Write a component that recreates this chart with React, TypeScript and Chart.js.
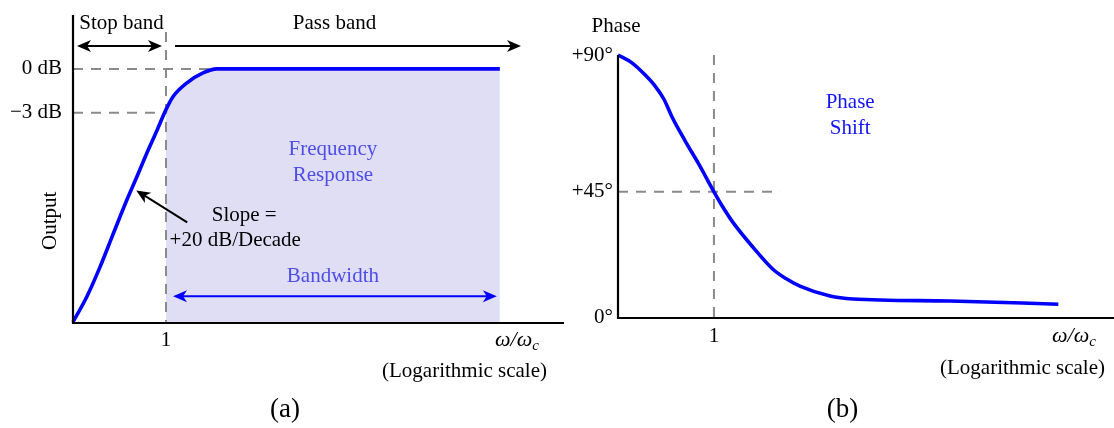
import React, { useEffect, useRef } from 'react';
import { Chart, registerables } from 'chart.js';

Chart.register(...registerables);

const W = 1114;
const H = 428;

// ---- Panel (a): magnitude response. x = log10(ω/ωc), y = normalised output ----
const ampX = [-1.0, -0.849, -0.71, -0.57, -0.419, -0.312, -0.204, -0.097, 0, 0.075, 0.226, 0.398, 0.548, 3.59];
const ampY = [0, 0.102, 0.217, 0.346, 0.484, 0.575, 0.669, 0.757, 0.839, 0.89, 0.945, 0.984, 1.0, 1.0];
const ampTickValues = [1.0, 0.827];
const ampTickLabels = ['0 dB', '\u22123 dB'];
const ampXRange = [-1, 4.28];
const ampYRange = [0, 1.213];

// ---- Panel (b): phase response. x = log10(ω/ωc), y = degrees ----
const phaseX = [-1.0, -0.854, -0.719, -0.615, -0.521, -0.438, -0.302, -0.156, 0, 0.083, 0.198, 0.406, 0.615, 0.75, 0.896, 1.21, 1.45, 2.46, 3.59];
const phaseY = [90, 87.3, 83.2, 79.4, 74.8, 68.8, 60.6, 52.4, 43, 38.3, 32.5, 24.0, 16.4, 13.2, 10.6, 7.2, 6.2, 5.5, 4.4];
const phaseTickValues = [90, 43, 0];
const phaseTickLabels = ['+90\u00B0', '+45\u00B0', '0\u00B0'];
const phaseXRange = [-1, 4.17];
const phaseYRange = [0, 90];

const cornerValue = 0;
const cornerLabel = '1';

const SERIF = '"Liberation Serif", "Times New Roman", serif';
const f = (size: number, style = '') => `${style} ${size}px ${SERIF}`.trim();
const GRAY = '#8a8a8a';
const BLUE = '#0000ff';

function arrowHead(ctx: CanvasRenderingContext2D, x: number, y: number, ang: number, color: string, len = 14, half = 6) {
  ctx.save();
  ctx.translate(x, y);
  ctx.rotate(ang);
  ctx.beginPath();
  ctx.moveTo(0, 0);
  ctx.lineTo(-len, -half);
  ctx.lineTo(-len * 0.72, 0);
  ctx.lineTo(-len, half);
  ctx.closePath();
  ctx.fillStyle = color;
  ctx.fill();
  ctx.restore();
}

function arrow(ctx: CanvasRenderingContext2D, x1: number, y1: number, x2: number, y2: number, color: string, both: boolean, width = 2) {
  const a = Math.atan2(y2 - y1, x2 - x1);
  const c = Math.cos(a), s = Math.sin(a);
  ctx.save();
  ctx.strokeStyle = color;
  ctx.lineWidth = width;
  ctx.setLineDash([]);
  ctx.beginPath();
  ctx.moveTo(x1 + (both ? c * 8 : 0), y1 + (both ? s * 8 : 0));
  ctx.lineTo(x2 - c * 8, y2 - s * 8);
  ctx.stroke();
  arrowHead(ctx, x2, y2, a, color);
  if (both) arrowHead(ctx, x1, y1, a + Math.PI, color);
  ctx.restore();
}

function text(ctx: CanvasRenderingContext2D, s: string, x: number, y: number, font: string, color = '#000', align: CanvasTextAlign = 'center', baseline: CanvasTextBaseline = 'middle') {
  ctx.font = font;
  ctx.fillStyle = color;
  ctx.textAlign = align;
  ctx.textBaseline = baseline;
  ctx.fillText(s, x, y);
}

function omegaLabel(ctx: CanvasRenderingContext2D, cx: number, baseY: number) {
  ctx.save();
  ctx.font = f(22, 'italic');
  const main = '\u03C9/\u03C9';
  const w1 = ctx.measureText(main).width;
  ctx.font = f(15, 'italic');
  const w2 = ctx.measureText('c').width;
  const x0 = cx - (w1 + w2) / 2;
  text(ctx, main, x0, baseY, f(22, 'italic'), '#000', 'left', 'alphabetic');
  text(ctx, 'c', x0 + w1, baseY + 4, f(15, 'italic'), '#000', 'left', 'alphabetic');
  ctx.restore();
}

function dashed(ctx: CanvasRenderingContext2D, x1: number, y1: number, x2: number, y2: number) {
  ctx.save();
  ctx.strokeStyle = GRAY;
  ctx.lineWidth = 2;
  ctx.setLineDash([10, 8]);
  ctx.beginPath();
  ctx.moveTo(x1, y1);
  ctx.lineTo(x2, y2);
  ctx.stroke();
  ctx.restore();
}

const ampPlugin = {
  id: 'ampDeco',
  afterDatasetDraw(chart: any, args: any) {
    if (args.index !== 1) return;
    const { ctx, chartArea: ca } = chart;
    const xs = chart.scales.x, ys = chart.scales.y;
    const xc = xs.getPixelForValue(cornerValue);
    const y0 = ys.getPixelForValue(0);
    const flatIdx = ampY.findIndex((v) => v >= 1);
    dashed(ctx, xc, ca.top + 17, xc, y0);
    dashed(ctx, ca.left, ys.getPixelForValue(ampTickValues[0]), xs.getPixelForValue(ampX[flatIdx]), ys.getPixelForValue(ampTickValues[0]));
    dashed(ctx, ca.left, ys.getPixelForValue(ampTickValues[1]), xc, ys.getPixelForValue(ampTickValues[1]));
  },
  afterDatasetsDraw(chart: any) {
    const { ctx, chartArea: ca } = chart;
    const xs = chart.scales.x, ys = chart.scales.y;
    const xc = xs.getPixelForValue(cornerValue);
    const y0 = ys.getPixelForValue(0);
    const xEnd = xs.getPixelForValue(ampX[ampX.length - 1]);
    ctx.save();
    ctx.strokeStyle = '#000';
    ctx.lineWidth = 2.2;
    ctx.beginPath();
    ctx.moveTo(ca.left, ca.top);
    ctx.lineTo(ca.left, y0 + 1);
    ctx.lineTo(ca.right, y0 + 1);
    ctx.stroke();
    ampTickValues.forEach((v, i) => text(ctx, ampTickLabels[i], ca.left - 11, ys.getPixelForValue(v), f(21), '#000', 'right'));
    ctx.save();
    ctx.translate(ca.left - 23, ys.getPixelForValue(0.4));
    ctx.rotate(-Math.PI / 2);
    text(ctx, 'Output', 0, 0, f(21));
    ctx.restore();
    text(ctx, cornerLabel, xc, y0 + 18, f(21));
    omegaLabel(ctx, ca.right - 47, y0 + 24);
    text(ctx, '(Logarithmic scale)', ca.right - 17, y0 + 49, f(21), '#000', 'right');
    text(ctx, '(a)', xs.getPixelForValue(1.28), y0 + 88, f(27));
    const ay = ca.top + 31;
    arrow(ctx, ca.left + 4, ay, xc - 4, ay, '#000', true);
    arrow(ctx, xc + 9, ay, ca.right - 43, ay, '#000', false);
    text(ctx, 'Stop band', (ca.left + xc) / 2 + 2, ca.top + 8, f(21));
    text(ctx, 'Pass band', (xc + ca.right - 43) / 2 - 9, ca.top + 8, f(21));
    const midPass = (xc + xEnd) / 2;
    text(ctx, 'Frequency', midPass, ys.getPixelForValue(0.68), f(21), '#4d4de8');
    text(ctx, 'Response', midPass, ys.getPixelForValue(0.58), f(21), '#4d4de8');
    text(ctx, 'Bandwidth', midPass, ys.getPixelForValue(0.178), f(21), '#4d4de8');
    const by = ys.getPixelForValue(0.102);
    arrow(ctx, xc + 7, by, xEnd - 3, by, BLUE, true);
    const tipX = xs.getPixelForValue(-0.32), tipY = ys.getPixelForValue(0.52);
    arrow(ctx, tipX + 51, tipY + 32, tipX, tipY, '#000', false);
    text(ctx, 'Slope =', tipX + 108, tipY + 25, f(21));
    text(ctx, '+20 dB/Decade', tipX + 99, tipY + 50, f(21));
    ctx.restore();
  },
};

const phasePlugin = {
  id: 'phaseDeco',
  beforeDatasetsDraw(chart: any) {
    const { ctx, chartArea: ca } = chart;
    const xs = chart.scales.x, ys = chart.scales.y;
    const xc = xs.getPixelForValue(cornerValue);
    dashed(ctx, xc, ca.top, xc, ys.getPixelForValue(0));
    const y45 = ys.getPixelForValue(phaseTickValues[1]);
    dashed(ctx, ca.left, y45, xs.getPixelForValue(0.69), y45);
  },
  afterDatasetsDraw(chart: any) {
    const { ctx, chartArea: ca } = chart;
    const xs = chart.scales.x, ys = chart.scales.y;
    const xc = xs.getPixelForValue(cornerValue);
    const y0 = ys.getPixelForValue(0);
    ctx.save();
    ctx.strokeStyle = '#000';
    ctx.lineWidth = 2.2;
    ctx.beginPath();
    ctx.moveTo(ca.left, ca.top);
    ctx.lineTo(ca.left, y0 + 1);
    ctx.lineTo(ca.right, y0 + 1);
    ctx.stroke();
    phaseTickValues.forEach((v, i) => text(ctx, phaseTickLabels[i], ca.left - 5, ys.getPixelForValue(v), f(21), '#000', 'right'));
    text(ctx, 'Phase', ca.left - 2, ca.top - 29, f(21));
    text(ctx, cornerLabel, xc, y0 + 19, f(21));
    omegaLabel(ctx, ca.right - 40, y0 + 25);
    text(ctx, '(Logarithmic scale)', ca.right - 9, y0 + 51, f(21), '#000', 'right');
    text(ctx, '(b)', xs.getPixelForValue(1.34), y0 + 93, f(27));
    const px = xs.getPixelForValue(1.42);
    text(ctx, 'Phase', px, ys.getPixelForValue(73.6), f(21), '#1414ff');
    text(ctx, 'Shift', px, ys.getPixelForValue(64.8), f(21), '#1414ff');
    ctx.restore();
  },
};

export default function App() {
  const leftRef = useRef<HTMLCanvasElement>(null);
  const rightRef = useRef<HTMLCanvasElement>(null);

  useEffect(() => {
    const ampPts = ampX.map((x, i) => ({ x, y: ampY[i] }));
    const shadePts = ampPts.filter((p) => p.x >= cornerValue);
    const phasePts = phaseX.map((x, i) => ({ x, y: phaseY[i] }));

    const common = (pad: any, xr: number[], yr: number[]) => ({
      responsive: false,
      animation: false as const,
      devicePixelRatio: 1,
      events: [],
      layout: { padding: pad },
      plugins: { legend: { display: false }, tooltip: { enabled: false } },
      elements: { point: { radius: 0 } },
      scales: {
        x: { type: 'linear' as const, min: xr[0], max: xr[1], display: false },
        y: { type: 'linear' as const, min: yr[0], max: yr[1], display: false },
      },
    });

    const c1 = new Chart(leftRef.current!, {
      type: 'line',
      data: {
        datasets: [
          {
            data: ampPts,
            borderColor: BLUE,
            borderWidth: 3.6,
            fill: false,
            cubicInterpolationMode: 'monotone',
            pointRadius: 0,
            clip: false as any,
          },
          {
            data: shadePts,
            borderWidth: 0,
            borderColor: 'rgba(0,0,0,0)',
            backgroundColor: '#e0def5',
            fill: 'origin',
            cubicInterpolationMode: 'monotone',
            pointRadius: 0,
          },
        ],
      },
      options: common({ left: 73, right: W - 564, top: 15, bottom: H - 322 }, ampXRange, ampYRange) as any,
      plugins: [ampPlugin],
    });

    const c2 = new Chart(rightRef.current!, {
      type: 'line',
      data: {
        datasets: [
          {
            data: phasePts,
            borderColor: BLUE,
            borderWidth: 3.6,
            fill: false,
            cubicInterpolationMode: 'monotone',
            pointRadius: 0,
            clip: false as any,
          },
        ],
      },
      options: common({ left: 618, right: 0, top: 55, bottom: H - 317 }, phaseXRange, phaseYRange) as any,
      plugins: [phasePlugin],
    });

    return () => {
      c1.destroy();
      c2.destroy();
    };
  }, []);

  return (
    <div style={{ position: 'fixed', left: 0, top: 0, width: W, height: H, background: '#fff' }}>
      <canvas ref={leftRef} width={W} height={H} style={{ position: 'absolute', left: 0, top: 0 }} />
      <canvas ref={rightRef} width={W} height={H} style={{ position: 'absolute', left: 0, top: 0 }} />
    </div>
  );
}
